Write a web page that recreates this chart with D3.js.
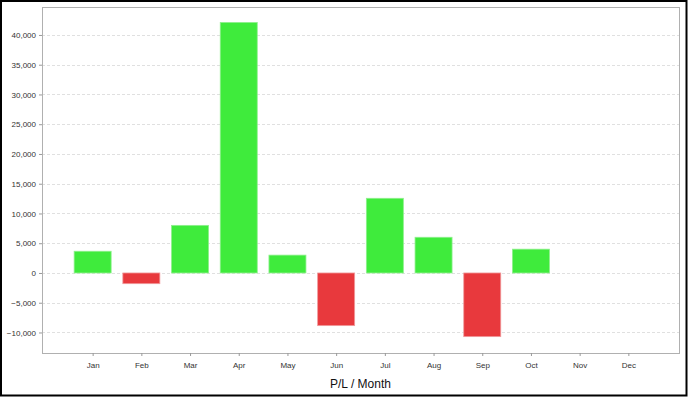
<!DOCTYPE html>
<html>
<head>
<meta charset="utf-8">
<script src="https://cdn.jsdelivr.net/npm/d3@7/dist/d3.min.js"></script>
<style>
  body { margin: 0; background: #fff; }
  svg { display: block; font-family: "Liberation Sans", Arial, sans-serif; }
</style>
</head>
<body>
<div id="chart"></div>
<script>
(function() {
  var w = 688,
      h = 398;

  // P/L per month
  var months = ["Jan", "Feb", "Mar", "Apr", "May", "Jun", "Jul", "Aug", "Sep", "Oct", "Nov", "Dec"];
  var values = [3650, -1800, 8000, 42100, 3000, -8850, 12550, 6000, -10700, 4000, 0, 0];
  var yTicks = [-10000, -5000, 0, 5000, 10000, 15000, 20000, 25000, 30000, 35000, 40000];

  var margin = {left: 42, top: 7, right: 9, bottom: 45};
  var pw = w - margin.left - margin.right,
      ph = h - margin.top - margin.bottom;

  var svg = d3.select("#chart")
    .append("svg")
    .attr("width", w)
    .attr("height", h);

  // outer frame
  svg.append("rect")
    .attr("x", 1).attr("y", 1)
    .attr("width", w - 2.5).attr("height", h - 3.5)
    .attr("fill", "none")
    .attr("stroke", "#000")
    .attr("stroke-width", 2);

  var g = svg.append("g")
    .attr("transform", "translate(" + margin.left + "," + margin.top + ")");

  var x = d3.scalePoint().domain(months).range([0, pw]).padding(1.04);
  var y = d3.scaleLinear().domain([-13450, 44700]).range([ph, 0]);
  var barW = 37;

  // grid
  g.selectAll(".grid")
    .data(yTicks)
    .enter().append("line")
    .attr("class", "grid")
    .attr("x1", 0).attr("x2", pw)
    .attr("y1", function(d) { return Math.round(y(d)) + 0.5; })
    .attr("y2", function(d) { return Math.round(y(d)) + 0.5; })
    .attr("stroke", "#e0e0e0")
    .attr("stroke-dasharray", "3,2");

  // bars (skip empty months)
  var bars = values.map(function(v, i) { return {m: months[i], v: v}; })
    .filter(function(d) { return d.v !== 0; });

  g.selectAll(".bar")
    .data(bars)
    .enter().append("rect")
    .attr("class", "bar")
    .attr("x", function(d) { return x(d.m) - barW / 2; })
    .attr("y", function(d) { return y(Math.max(0, d.v)); })
    .attr("width", barW)
    .attr("height", function(d) { return Math.abs(y(d.v) - y(0)); })
    .attr("fill", function(d) { return d.v >= 0 ? "#3feb3c" : "#e8393d"; })
    .attr("stroke", function(d) { return d.v >= 0 ? "#8ef08c" : "#f09a9c"; })
    .attr("stroke-width", 0.8);

  // plot border
  g.append("rect")
    .attr("x", 0.5).attr("y", 0.5)
    .attr("width", pw).attr("height", ph)
    .attr("fill", "none")
    .attr("stroke", "#b0b0b0");

  // y axis
  var yAxis = g.append("g")
    .call(d3.axisLeft(y).tickValues(yTicks).tickSize(3).tickPadding(3).tickFormat(d3.format(",")));
  yAxis.select(".domain").remove();
  yAxis.selectAll("line").attr("stroke", "#999");
  yAxis.selectAll("text").attr("font-size", 8).attr("fill", "#333").attr("font-family", "Liberation Sans, Arial, sans-serif");

  // x axis
  var xAxis = g.append("g")
    .attr("transform", "translate(0," + ph + ")")
    .call(d3.axisBottom(x).tickSize(3).tickPadding(6));
  xAxis.select(".domain").remove();
  xAxis.selectAll("line").attr("stroke", "#999");
  xAxis.selectAll("text").attr("font-size", 8).attr("fill", "#333").attr("font-family", "Liberation Sans, Arial, sans-serif");

  svg.append("text")
    .attr("x", margin.left + pw / 2)
    .attr("y", 388)
    .attr("text-anchor", "middle")
    .attr("font-size", 12)
    .attr("fill", "#111")
    .text("P/L / Month");
})();
</script>
</body>
</html>
